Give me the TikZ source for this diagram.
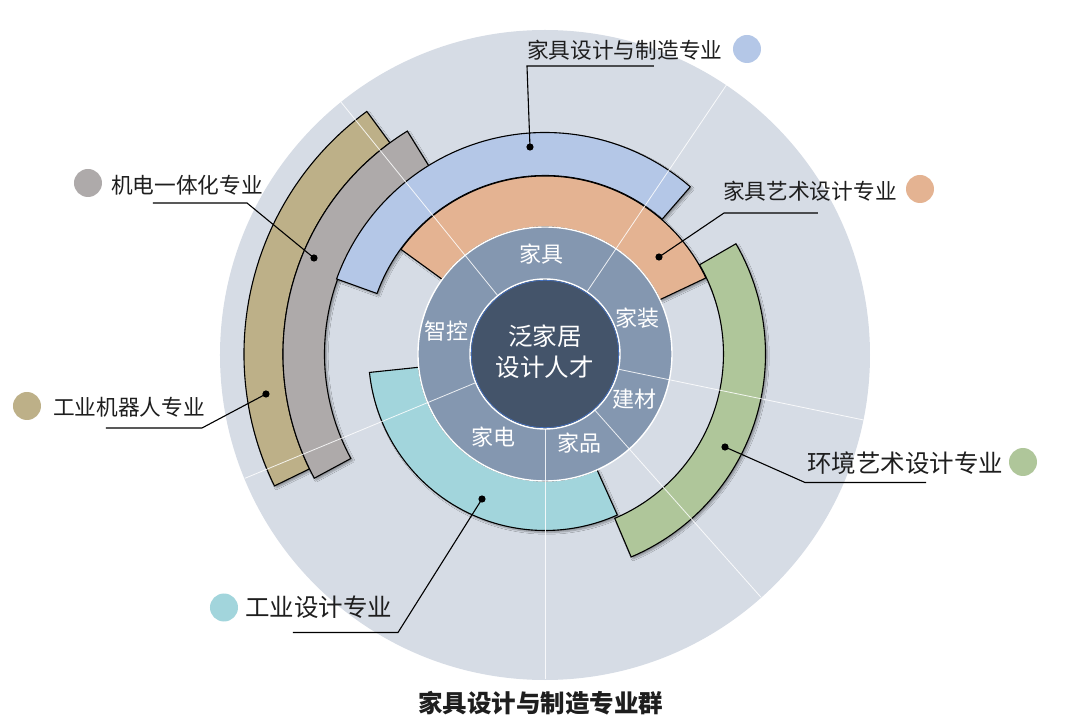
\documentclass[tikz,border=0pt]{standalone}
\usepackage{fontspec}
\newfontfamily\cjk{Noto Sans CJK SC}
\usetikzlibrary{shadows.blur}
\definecolor{bgc}{HTML}{D6DCE5}
\definecolor{ringc}{HTML}{8497B0}
\definecolor{corec}{HTML}{44546A}
\definecolor{corelinec}{HTML}{4472C4}
\definecolor{bluec}{HTML}{B4C7E7}
\definecolor{orangec}{HTML}{E4B392}
\definecolor{greenc}{HTML}{AFC69A}
\definecolor{cyanc}{HTML}{A2D5DC}
\definecolor{grayc}{HTML}{AEAAAA}
\definecolor{tanc}{HTML}{BDB088}
\definecolor{txtc}{HTML}{1E1E1E}
\newcommand\myband[5]{%
  \path[band, fill=#1] (#2:#5) arc[start angle=#2, end angle=#3, radius=#5]
    -- (#3:#4) arc[start angle=#3, end angle=#2, radius=#4] -- cycle;}
\begin{document}
\begin{tikzpicture}[x=1pt,y=1pt,
  band/.style={draw=black, line width=1.1pt, line join=miter,
    blur shadow={shadow xshift=2pt, shadow yshift=-2pt, shadow blur steps=6, shadow opacity=35}},
  spoke/.style={draw=white, line width=0.8pt, opacity=0.85},
  lbl/.style={font=\cjk\fontsize{21.7}{26}\selectfont, text=txtc, inner sep=0pt, anchor=west},
  lblb/.style={font=\cjk\fontsize{24.5}{29}\selectfont, text=txtc, inner sep=0pt, anchor=west},
  rlbl/.style={font=\cjk\fontsize{22}{26}\selectfont, text=white, inner sep=0pt},
  legdot/.style={circle, inner sep=0pt, minimum size=28pt},
  lead/.style={draw=black, line width=1.1pt},
  tipdot/.style={fill=black}]
\useasboundingbox (-545,-374) rectangle (535,354);
% background disc
\fill[bgc] (0,-1) circle[radius=325];
% bands
\myband{tanc}{126.3}{206}{262}{301}
\myband{grayc}{121.7}{208.3}{220.5}{262}
\myband{bluec}{49}{160.2}{178.5}{221.5}
\myband{orangec}{25.3}{144}{127}{178}
\myband{cyanc}{186}{294.2}{127}{176.5}
\myband{greenc}{-67}{30}{178.5}{220.5}
% ring
\fill[ringc] (0,0) circle[radius=127];
% spokes
\foreach \a in {129,56,-11.7,-48.4,-90,202.5}
  \draw[spoke] (\a:74) -- (\a:325);
\draw[white, line width=1.4pt] (0,0) circle[radius=127];
% core
\fill[corec] (0,0) circle[radius=75];
\draw[white, line width=1.4pt] (0,0) circle[radius=75];
\draw[corelinec, line width=0.6pt] (0,0) circle[radius=73.6];
\node[font=\cjk\fontsize{24.5}{31}\selectfont, text=white, align=center] (core) at (0,2) {泛家居\\设计人才};
% ring labels
\node[rlbl] (r1) at (92:100) {家具};
\node[rlbl] (r2) at (21:99) {家装};
\node[rlbl] (r3) at (-27:100) {建材};
\node[rlbl] (r4) at (-69:95) {家品};
\node[rlbl] (r5) at (238:98) {家电};
\node[rlbl] (r6) at (167:101) {智控};
% label 1
\node[lbl] (t1) at (-18,304) {家具设计与制造专业};
\node[legdot, fill=bluec] (c1) at (202,305) {};
\coordinate (u1a) at (-18,288); \coordinate (u1b) at (109,288);
\coordinate (d1) at (-15,207);
\draw[lead] (d1) -- (u1a) -- (u1b);
\fill[tipdot] (d1) circle[radius=3.6];
% label 2
\node[lbl] (t2) at (178,163) {家具艺术设计专业};
\node[legdot, fill=orangec] (c2) at (375,165) {};
\coordinate (u2a) at (179,141); \coordinate (u2b) at (273,141);
\coordinate (d2) at (114,97);
\draw[lead] (d2) -- (u2a) -- (u2b);
\fill[tipdot] (d2) circle[radius=3.6];
% label 3
\node[lblb] (t3) at (262,-109) {环境艺术设计专业};
\node[legdot, fill=greenc] (c3) at (478,-108) {};
\coordinate (u3a) at (260,-128.5); \coordinate (u3b) at (381,-128.5);
\coordinate (d3) at (180,-93);
\draw[lead] (d3) -- (u3a) -- (u3b);
\fill[tipdot] (d3) circle[radius=3.6];
% label 4
\node[lblb] (t4) at (-300,-253.5) {工业设计专业};
\node[legdot, fill=cyanc] (c4) at (-321,-253.5) {};
\coordinate (u4a) at (-252,-278.5); \coordinate (u4b) at (-147,-278.5);
\coordinate (d4) at (-63,-145);
\draw[lead] (u4a) -- (u4b) -- (d4);
\fill[tipdot] (d4) circle[radius=3.6];
% label 5
\node[lbl] (t5) at (-434,169) {机电一体化专业};
\node[legdot, fill=grayc] (c5) at (-457,171) {};
\coordinate (u5a) at (-392,151); \coordinate (u5b) at (-298,151);
\coordinate (d5) at (-231,96);
\draw[lead] (u5a) -- (u5b) -- (d5);
\fill[tipdot] (d5) circle[radius=3.6];
% label 6
\node[lbl] (t6) at (-492,-53) {工业机器人专业};
\node[legdot, fill=tanc] (c6) at (-518,-52) {};
\coordinate (u6a) at (-439,-74); \coordinate (u6b) at (-343,-74);
\coordinate (d6) at (-279,-40);
\draw[lead] (u6a) -- (u6b) -- (d6);
\fill[tipdot] (d6) circle[radius=3.6];
% title
\node[font=\cjk\bfseries\fontsize{24.5}{29}\selectfont, text=txtc, inner sep=0pt] (title) at (-4,-349) {家具设计与制造专业群};
\end{tikzpicture}
\end{document}
